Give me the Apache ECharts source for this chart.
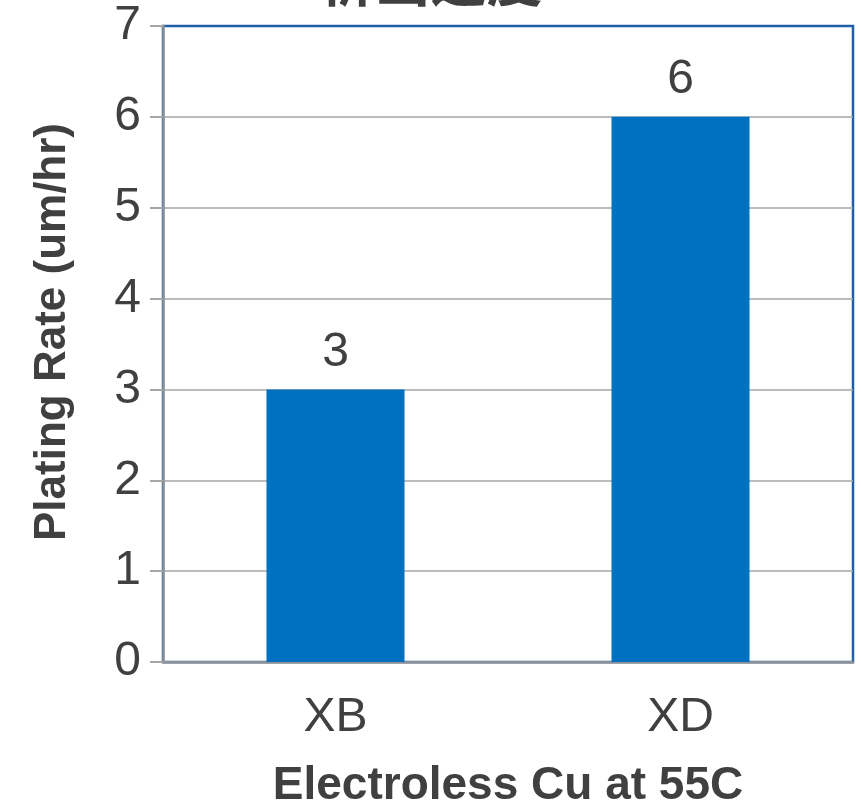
<!DOCTYPE html>
<html>
<head>
<meta charset="utf-8">
<script src="https://cdn.jsdelivr.net/npm/echarts@6/dist/echarts.min.js"></script>
<style>
  html, body { margin: 0; padding: 0; background: #fff; }
  #chart { width: 861px; height: 803px; }
</style>
</head>
<body>
<div id="chart"></div>
<script>
// Plating rate by bath type
const titleText = '析出速度';
const categories = ['XB', 'XD'];
const rates = [3, 6];
const yTicks = { min: 0, max: 7, step: 1 };
const xAxisName = 'Electroless Cu at 55C';
const yAxisName = 'Plating Rate (um/hr)';

const textColor = '#404040';
const gridGrey = '#a6a6a6';
const frameBlue = '#1f5fa8';

// grey gridlines, with the top one blue so it joins the frame
const splitColors = [];
for (let v = yTicks.min; v <= yTicks.max; v += yTicks.step) {
  splitColors.push(v === yTicks.max ? frameBlue : gridGrey);
}

const chart = echarts.init(document.getElementById('chart'), null, { renderer: 'canvas' });

chart.setOption({
  animation: false,
  backgroundColor: '#ffffff',
  title: {
    text: titleText,
    left: 'center',
    top: -53,
    textStyle: {
      fontFamily: 'Noto Sans CJK SC',
      fontSize: 56,
      fontWeight: 'bold',
      color: textColor
    }
  },
  grid: {
    left: 163,
    right: 8,
    top: 26,
    bottom: 141,
    outerBoundsMode: 'none',
    containLabel: false,
    show: true,
    borderColor: frameBlue,
    borderWidth: 2.5,
    backgroundColor: 'transparent'
  },
  xAxis: {
    type: 'category',
    data: categories,
    name: xAxisName,
    nameLocation: 'middle',
    nameGap: 101,
    nameTextStyle: {
      fontFamily: 'Liberation Sans',
      fontSize: 46,
      fontWeight: 'bold',
      color: textColor
    },
    axisLine: { show: true, lineStyle: { color: '#8c9198', width: 2.5 } },
    axisTick: { show: false },
    axisLabel: {
      margin: 32,
      fontFamily: 'Liberation Sans',
      fontSize: 48,
      color: textColor
    }
  },
  yAxis: {
    type: 'value',
    min: yTicks.min,
    max: yTicks.max,
    interval: yTicks.step,
    name: yAxisName,
    nameLocation: 'middle',
    nameGap: 88,
    nameTextStyle: {
      fontFamily: 'Liberation Sans',
      fontSize: 44,
      fontWeight: 'bold',
      color: textColor,
      padding: [0, 0, 0, 24]
    },
    axisLine: { show: true, lineStyle: { color: '#8c9198', width: 2.5 } },
    axisTick: { show: true, inside: false, length: 13, lineStyle: { color: gridGrey, width: 2 } },
    axisLabel: {
      margin: 22,
      fontFamily: 'Liberation Sans',
      fontSize: 48,
      color: textColor
    },
    splitLine: { show: true, lineStyle: { color: splitColors, width: 1.5 } }
  },
  series: [{
    type: 'bar',
    data: rates,
    barWidth: '40%',
    itemStyle: { color: '#0070c0' },
    label: {
      show: true,
      position: 'top',
      distance: 13,
      fontFamily: 'Liberation Sans',
      fontSize: 48,
      color: textColor
    }
  }]
});
</script>
</body>
</html>
